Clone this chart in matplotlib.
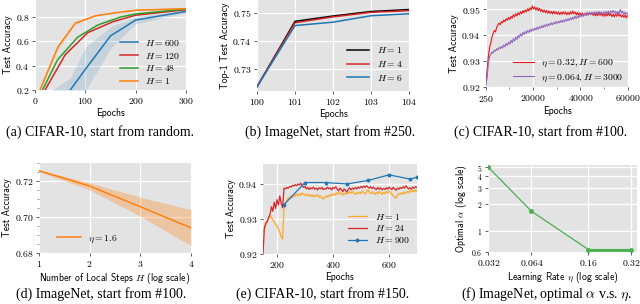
import numpy as np
import matplotlib
matplotlib.use('Agg')
import matplotlib.pyplot as plt
from matplotlib.ticker import NullLocator, NullFormatter, MultipleLocator

plt.rcParams['mathtext.fontset'] = 'cm'
plt.rcParams['axes.unicode_minus'] = False

# ---------------- data ----------------
# (a) CIFAR-10 from random
a_orange_x = [0, 45, 80, 120, 160, 200, 300]
a_orange_y = [0.10, 0.55, 0.75, 0.81, 0.835, 0.856, 0.869]
a_orange_lo = [0.09, 0.53, 0.74, 0.805, 0.832, 0.853, 0.866]
a_orange_hi = [0.11, 0.57, 0.76, 0.815, 0.838, 0.859, 0.872]
a_green_x = [0, 15, 45, 85, 125, 170, 200, 300]
a_green_y = [0.075, 0.20, 0.45, 0.635, 0.735, 0.80, 0.825, 0.866]
a_red_x = [0, 20, 60, 105, 155, 200, 300]
a_red_y = [0.055, 0.20, 0.49, 0.672, 0.762, 0.815, 0.860]
a_blue_x = [0, 70, 100, 150, 200, 300]
a_blue_y = [0.05, 0.20, 0.37, 0.645, 0.775, 0.846]
a_blue_lo = [0.0, 0.10, 0.19, 0.54, 0.745, 0.835]
a_blue_hi = [0.10, 0.30, 0.55, 0.72, 0.80, 0.856]

# (b) ImageNet from #250
b_x = [100, 101, 102, 103, 104]
b_h1 = [0.7237, 0.7470, 0.7489, 0.7505, 0.7512]
b_h4 = [0.7237, 0.7465, 0.7486, 0.7502, 0.7508]
b_h6 = [0.7237, 0.7455, 0.7467, 0.7490, 0.7497]

# (c) CIFAR-10 from #100
c_x = np.arange(250, 60000, 500)
c_red = [0.9215, 0.9270, 0.9318, 0.9352, 0.9368, 0.9392, 0.9405, 0.9418, 0.9412, 0.9430,
         0.9438, 0.9446, 0.9440, 0.9452, 0.9447, 0.9458, 0.9452, 0.9463, 0.9457, 0.9468,
         0.9460, 0.9472, 0.9465, 0.9478, 0.9470, 0.9482, 0.9474, 0.9486, 0.9478, 0.9490,
         0.9482, 0.9494, 0.9486, 0.9497, 0.9489, 0.9501, 0.9493, 0.9505, 0.9497, 0.9512,
         0.9500, 0.9508, 0.9496, 0.9506, 0.9494, 0.9503, 0.9491, 0.9499, 0.9488, 0.9497,
         0.9486, 0.9495, 0.9484, 0.9493, 0.9483, 0.9491, 0.9481, 0.9492, 0.9482, 0.9490,
         0.9480, 0.9489, 0.9479, 0.9488, 0.9480, 0.9490, 0.9481, 0.9489, 0.9478, 0.9487,
         0.9479, 0.9490, 0.9481, 0.9493, 0.9482, 0.9489, 0.9478, 0.9487, 0.9477, 0.9486,
         0.9476, 0.9485, 0.9475, 0.9484, 0.9476, 0.9486, 0.9477, 0.9488, 0.9478, 0.9486,
         0.9476, 0.9484, 0.9474, 0.9483, 0.9475, 0.9486, 0.9476, 0.9484, 0.9473, 0.9482,
         0.9472, 0.9483, 0.9474, 0.9485, 0.9475, 0.9482, 0.9471, 0.9480, 0.9470, 0.9481,
         0.9472, 0.9483, 0.9473, 0.9479, 0.9469, 0.9478, 0.9468, 0.9477, 0.9466, 0.9474]
c_purple = [0.9205, 0.9240, 0.9290, 0.9318, 0.9326, 0.9335, 0.9330, 0.9342, 0.9338, 0.9348,
            0.9342, 0.9353, 0.9347, 0.9357, 0.9350, 0.9362, 0.9355, 0.9368, 0.9360, 0.9373,
            0.9365, 0.9380, 0.9370, 0.9386, 0.9377, 0.9392, 0.9383, 0.9398, 0.9390, 0.9405,
            0.9396, 0.9410, 0.9402, 0.9414, 0.9406, 0.9418, 0.9410, 0.9421, 0.9413, 0.9424,
            0.9417, 0.9427, 0.9420, 0.9430, 0.9423, 0.9433, 0.9426, 0.9436, 0.9429, 0.9439,
            0.9432, 0.9442, 0.9435, 0.9444, 0.9438, 0.9447, 0.9440, 0.9449, 0.9443, 0.9452,
            0.9445, 0.9453, 0.9447, 0.9456, 0.9449, 0.9458, 0.9451, 0.9461, 0.9454, 0.9463,
            0.9456, 0.9466, 0.9459, 0.9469, 0.9461, 0.9472, 0.9464, 0.9474, 0.9467, 0.9477,
            0.9470, 0.9480, 0.9472, 0.9483, 0.9475, 0.9485, 0.9477, 0.9487, 0.9479, 0.9488,
            0.9480, 0.9489, 0.9481, 0.9490, 0.9482, 0.9491, 0.9483, 0.9489, 0.9480, 0.9490,
            0.9482, 0.9491, 0.9483, 0.9492, 0.9484, 0.9493, 0.9485, 0.9495, 0.9484, 0.9492,
            0.9483, 0.9490, 0.9481, 0.9499, 0.9485, 0.9492, 0.9480, 0.9488, 0.9478, 0.9485]

# (d) ImageNet from #100
d_x = [1, 2, 3, 4]
d_y = [0.7257, 0.7172, 0.7057, 0.6940]
d_lo = [0.7252, 0.7150, 0.7005, 0.6840]
d_hi = [0.7262, 0.7190, 0.7110, 0.7040]

# (e) CIFAR-10 from #150
e_x = np.arange(150, 701, 5)
e_red = [0.9200, 0.9275, 0.9288, 0.9292, 0.9305, 0.9312, 0.9335, 0.9322, 0.9348, 0.9330,
         0.9355, 0.9340, 0.9366, 0.9345, 0.9332, 0.9388, 0.9386, 0.9390, 0.9388, 0.9393,
         0.9391, 0.9396, 0.9394, 0.9398, 0.9395, 0.9400, 0.9397, 0.9402, 0.9396, 0.9390,
         0.9393, 0.9386, 0.9390, 0.9384, 0.9389, 0.9386, 0.9391, 0.9385, 0.9388, 0.9383,
         0.9389, 0.9386, 0.9390, 0.9384, 0.9387, 0.9385, 0.9391, 0.9386, 0.9389, 0.9383,
         0.9390, 0.9387, 0.9392, 0.9385, 0.9380, 0.9388, 0.9384, 0.9378, 0.9386, 0.9381,
         0.9377, 0.9385, 0.9389, 0.9383, 0.9388, 0.9385, 0.9390, 0.9386, 0.9391, 0.9388,
         0.9393, 0.9389, 0.9394, 0.9390, 0.9395, 0.9391, 0.9388, 0.9392, 0.9387, 0.9391,
         0.9386, 0.9384, 0.9390, 0.9385, 0.9389, 0.9383, 0.9387, 0.9384, 0.9389, 0.9385,
         0.9391, 0.9387, 0.9384, 0.9390, 0.9386, 0.9382, 0.9388, 0.9385, 0.9390, 0.9387,
         0.9392, 0.9388, 0.9395, 0.9390, 0.9386, 0.9389, 0.9385, 0.9391, 0.9388, 0.9392,
         0.9389]
e_orange = [0.9262, 0.9270, 0.9285, 0.9295, 0.9300, 0.9310, 0.9305, 0.9298, 0.9292, 0.9285,
            0.9280, 0.9272, 0.9262, 0.9250, 0.9243, 0.9330, 0.9345, 0.9352, 0.9360, 0.9358,
            0.9366, 0.9362, 0.9369, 0.9365, 0.9371, 0.9366, 0.9373, 0.9368, 0.9375, 0.9370,
            0.9367, 0.9372, 0.9366, 0.9370, 0.9364, 0.9369, 0.9363, 0.9368, 0.9365, 0.9370,
            0.9362, 0.9366, 0.9360, 0.9357, 0.9361, 0.9366, 0.9362, 0.9368, 0.9365, 0.9371,
            0.9367, 0.9373, 0.9369, 0.9375, 0.9371, 0.9376, 0.9372, 0.9368, 0.9374, 0.9370,
            0.9375, 0.9372, 0.9378, 0.9374, 0.9379, 0.9373, 0.9370, 0.9376, 0.9372, 0.9377,
            0.9373, 0.9380, 0.9375, 0.9371, 0.9377, 0.9384, 0.9376, 0.9372, 0.9378, 0.9374,
            0.9370, 0.9376, 0.9372, 0.9379, 0.9375, 0.9370, 0.9376, 0.9372, 0.9378, 0.9374,
            0.9380, 0.9376, 0.9371, 0.9366, 0.9362, 0.9360, 0.9368, 0.9373, 0.9370, 0.9375,
            0.9371, 0.9377, 0.9373, 0.9379, 0.9375, 0.9381, 0.9377, 0.9382, 0.9378, 0.9383,
            0.9379]
e_blue_x = [225, 300, 375, 450, 525, 600, 675, 700]
e_blue_y = [0.9341, 0.9404, 0.9404, 0.9400, 0.9410, 0.9426, 0.9414, 0.9419]

# (f) optimal alpha vs eta
f_eta = [0.032, 0.064, 0.16, 0.32]
f_alpha = [5.0, 1.66, 0.635, 0.635]

assert len(c_red) == len(c_x) and len(c_purple) == len(c_x)
assert len(e_red) == len(e_x) and len(e_orange) == len(e_x)

# ---------------- layout ----------------
W, H = 640, 304
fig = plt.figure(figsize=(6.4, 3.04), dpi=100)
BG = '#e3e3e3'
TFS = 7
LFS = 7
GFS = 7


def add_ax(l, r, t, b):
    ax = fig.add_axes([l / W, 1 - b / H, (r - l) / W, (b - t) / H])
    ax.set_facecolor(BG)
    for s in ax.spines.values():
        s.set_visible(False)
    ax.grid(True, color='white', lw=0.9)
    ax.set_axisbelow(True)
    ax.tick_params(which='major', length=2.5, width=0.6, pad=1.5, color='#444444')
    ax.tick_params(which='minor', length=1.3, width=0.5, color='#666666')
    return ax


def ticks(ax, xt, xl, yt, yl, yfs=TFS):
    ax.set_xticks(xt, ['$%s$' % s for s in xl], fontsize=TFS)
    ax.set_yticks(yt, ['$%s$' % s for s in yl], fontsize=yfs)


def labels(ax, xl, yl):
    ax.set_xlabel(xl, fontfamily='cmss10', fontsize=LFS, labelpad=1.5)
    ax.set_ylabel(yl, fontfamily='cmss10', fontsize=LFS, labelpad=1.5)


def legend(ax, loc, anchor, hl, spacing):
    ax.legend(loc=loc, bbox_to_anchor=anchor, frameon=False, fontsize=GFS,
              handlelength=hl, handletextpad=0.8, labelspacing=spacing,
              borderaxespad=0, borderpad=0)


# (a)
ax = add_ax(35, 186, 0, 90)
ax.fill_between(a_blue_x, a_blue_lo, a_blue_hi, color='#1f77b4', alpha=0.15, lw=0)
ax.fill_between(a_orange_x, a_orange_lo, a_orange_hi, color='#ff7f0e', alpha=0.2, lw=0)
ax.plot(a_blue_x, a_blue_y, color='#1f77b4', lw=1.1, label='$H = 600$')
ax.plot(a_red_x, a_red_y, color='#d62728', lw=1.1, label='$H = 120$')
ax.plot(a_green_x, a_green_y, color='#2ca02c', lw=1.1, label='$H = 48$')
ax.plot(a_orange_x, a_orange_y, color='#ff7f0e', lw=1.1, label='$H = 1$')
ax.set_xlim(0, 300)
ax.set_ylim(0.2, 0.94)
ticks(ax, [0, 100, 200, 300], ['0', '100', '200', '300'],
      [0.2, 0.4, 0.6, 0.8], ['0.2', '0.4', '0.6', '0.8'])
labels(ax, 'Epochs', 'Test Accuracy')
legend(ax, 'lower right', (0.965, 0.04), 1.8, 0.3)

# (b)
ax = add_ax(257, 409, 0, 91)
ax.plot(b_x, b_h1, color='black', lw=1.1, label='$H = 1$')
ax.plot(b_x, b_h4, color='#d62728', lw=1.1, label='$H = 4$')
ax.plot(b_x, b_h6, color='#1f77b4', lw=1.1, label='$H = 6$')
ax.set_xlim(100, 104)
ax.set_ylim(0.7222, 0.7546)
ticks(ax, b_x, ['100', '101', '102', '103', '104'],
      [0.73, 0.74, 0.75], ['0.73', '0.74', '0.75'])
labels(ax, 'Epochs', 'Top-1 Test Accuracy')
legend(ax, 'lower right', (0.955, 0.09), 2.2, 0.4)

# (c)
ax = add_ax(486, 628, 0, 87)
ax.plot(c_x, c_red, color='#e41a1c', lw=0.8, label=r'$\eta = 0.32, H = 600$')
ax.plot(c_x, c_purple, color='#9467bd', lw=0.8, label=r'$\eta = 0.064, H = 3000$')
ax.set_xlim(250, 60000)
ax.set_ylim(0.92, 0.9535)
ticks(ax, [250, 20000, 40000, 60000], ['250', '20000', '40000', '60000'],
      [0.92, 0.93, 0.94, 0.95], ['0.92', '0.93', '0.94', '0.95'])
ax.xaxis.set_minor_locator(MultipleLocator(10000))
labels(ax, 'Epochs', 'Test Accuracy')
legend(ax, 'lower right', (0.97, 0.035), 2.1, 0.25)

# (d)
ax = add_ax(39, 191, 163, 253)
ax.fill_between(d_x, d_lo, d_hi, color='#ff7f0e', alpha=0.3, lw=0)
ax.plot(d_x, d_y, color='#ff7f0e', lw=1.1, label=r'$\eta = 1.6$')
ax.set_xlim(1, 4)
ax.set_ylim(0.68, 0.73)
ticks(ax, [1, 2, 3, 4], ['1', '2', '3', '4'],
      [0.68, 0.70, 0.72], ['0.68', '0.70', '0.72'])
ax.yaxis.set_minor_locator(MultipleLocator(0.005))
labels(ax, 'Number of Local Steps $H$ (log scale)', 'Test Accuracy')
legend(ax, 'lower left', (0.12, 0.09), 2.4, 0.3)

# (e)
ax = add_ax(263, 417, 164, 254)
ax.plot(e_x, e_orange, color='#ffa726', lw=0.9, label='$H = 1$')
ax.plot(e_x, e_red, color='#d62728', lw=0.9, label='$H = 24$')
ax.plot(e_blue_x, e_blue_y, color='#1f77b4', lw=0.9, marker='o', ms=1.8,
        label='$H = 900$')
ax.set_xlim(150, 700)
ax.set_ylim(0.92, 0.9457)
ticks(ax, [200, 400, 600], ['200', '400', '600'],
      [0.92, 0.93, 0.94], ['0.92', '0.93', '0.94'])
labels(ax, 'Epochs', 'Test Accuracy')
legend(ax, 'lower right', (0.955, 0.1), 2.0, 0.18)

# (f)
ax = add_ax(488, 637, 165, 252)
ax.set_xscale('log')
ax.set_yscale('log')
ax.plot(f_eta, f_alpha, color='#4caf50', lw=0.9, marker='o', ms=2.5)
ax.plot(f_eta[2:], f_alpha[2:], color='#4caf50', lw=2.0)
ax.set_xlim(0.0318, 0.35)
ax.set_ylim(0.597, 5.3)
ax.xaxis.set_minor_locator(NullLocator())
ax.yaxis.set_minor_locator(NullLocator())
ax.xaxis.set_minor_formatter(NullFormatter())
ax.yaxis.set_minor_formatter(NullFormatter())
ticks(ax, f_eta, ['0.032', '0.064', '0.16', '0.32'],
      [0.6, 1, 2, 3, 4, 5], ['0.6', '1', '2', '3', '4', '5'], yfs=5.5)
labels(ax, r'Learning Rate $\eta$ (log scale)', r'Optimal $\alpha$ (log scale)')

# captions
caps = [
    (100, 132, '(a) CIFAR-10, start from random.'),
    (330, 132, '(b) ImageNet, start from #250.'),
    (541, 132, '(c) CIFAR-10, start from #100.'),
    (101, 294, '(d) ImageNet, start from #100.'),
    (323, 294, '(e) CIFAR-10, start from #150.'),
    (547, 294, r'(f) ImageNet, optimal $\alpha$ v.s. $\eta$.'),
]
for x, y, t in caps:
    fig.text(x / W, 1 - y / H, t, ha='center', va='center',
             fontfamily='Liberation Serif', fontsize=10)

fig.savefig('out.png', dpi=100)
